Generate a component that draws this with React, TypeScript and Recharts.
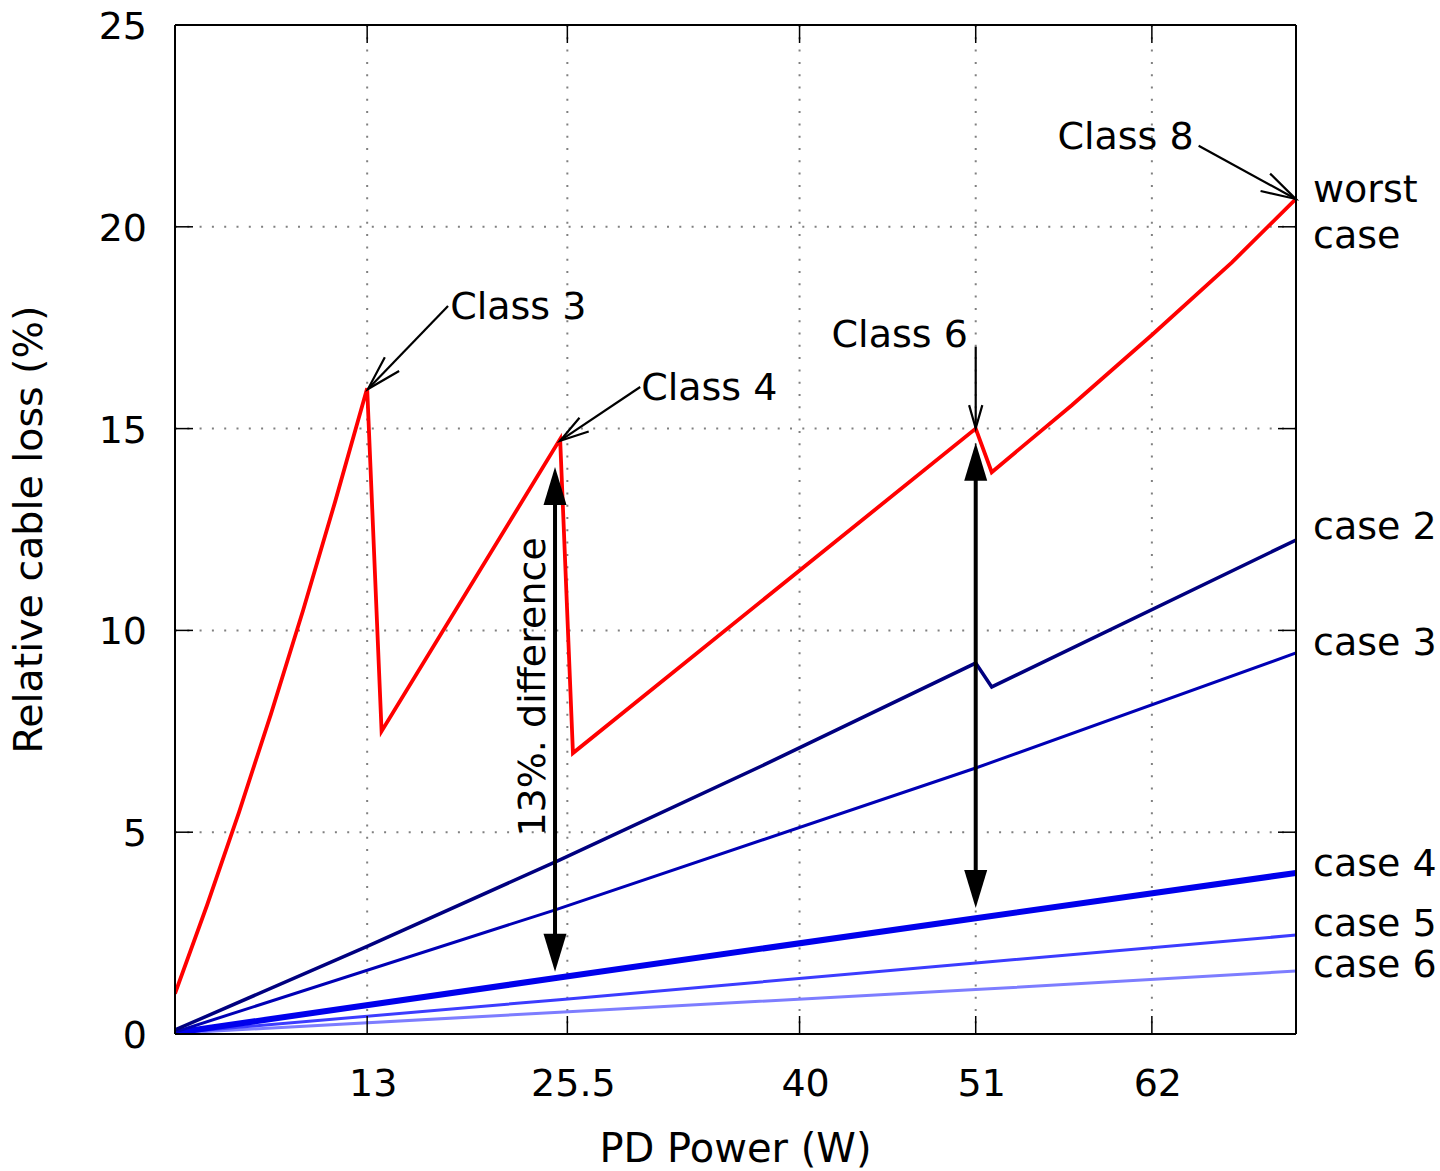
import React from 'react';
import { LineChart, Line, XAxis, YAxis, CartesianGrid, ReferenceLine, ReferenceDot } from 'recharts';

const FONT = '"DejaVu Sans", "Liberation Sans", sans-serif';
const FS = 38;

// axis ticks
const xTicks = [13, 25.5, 40, 51, 62];
const yTicks = [0, 5, 10, 15, 20, 25];

// relative cable loss (%) vs PD power (W)
const worstCase = [
  { x: 1, y: 1.0 },
  { x: 3, y: 3.19 },
  { x: 5, y: 5.5 },
  { x: 7, y: 7.94 },
  { x: 9, y: 10.5 },
  { x: 11, y: 13.19 },
  { x: 13, y: 16.0 },
  { x: 13.9, y: 7.5 },
  { x: 25.05, y: 14.74 },
  { x: 25.85, y: 6.96 },
  { x: 51, y: 15.0 },
  { x: 52, y: 13.92 },
  { x: 57, y: 15.58 },
  { x: 62, y: 17.32 },
  { x: 67, y: 19.12 },
  { x: 71, y: 20.69 },
];
const case2 = [
  { x: 1, y: 0.1 },
  { x: 13, y: 2.17 },
  { x: 25, y: 4.31 },
  { x: 38, y: 6.71 },
  { x: 51, y: 9.19 },
  { x: 52, y: 8.6 },
  { x: 71, y: 12.24 },
];
const case3 = [
  { x: 1, y: 0.05 },
  { x: 24.7, y: 3.07 },
  { x: 51, y: 6.59 },
  { x: 71, y: 9.44 },
];
const case4 = [
  { x: 1, y: 0.03 },
  { x: 25, y: 1.4 },
  { x: 51, y: 2.87 },
  { x: 71, y: 3.99 },
];
const case5 = [
  { x: 1, y: 0.03 },
  { x: 25, y: 0.85 },
  { x: 51, y: 1.76 },
  { x: 71, y: 2.45 },
];
const case6 = [
  { x: 1, y: 0.02 },
  { x: 25, y: 0.54 },
  { x: 51, y: 1.1 },
  { x: 71, y: 1.56 },
];

// annotations (data units)
const classLabels = [
  { text: 'Class 3', x: 18.18, y: 17.72 },
  { text: 'Class 4', x: 30.11, y: 15.71 },
  { text: 'Class 6', x: 42.0, y: 17.02 },
  { text: 'Class 8', x: 56.1, y: 21.93 },
];
const classArrows = [
  { from: { x: 18.05, y: 18.04 }, to: { x: 13.05, y: 15.98 }, head: 36 },
  { from: { x: 30.05, y: 16.03 }, to: { x: 25.05, y: 14.7 }, head: 30 },
  { from: { x: 51, y: 17.03 }, to: { x: 51, y: 15.01 }, head: 24 },
  { from: { x: 64.92, y: 22.01 }, to: { x: 70.98, y: 20.69 }, head: 36 },
];
const caseLabels = [
  { text: 'worst', y: 20.61 },
  { text: 'case', y: 19.47 },
  { text: 'case 2', y: 12.26 },
  { text: 'case 3', y: 9.39 },
  { text: 'case 4', y: 3.91 },
  { text: 'case 5', y: 2.43 },
  { text: 'case 6', y: 1.41 },
];
const diffArrows = [
  { x: 24.73, top: 14.05, bottom: 1.54 },
  { x: 51, top: 14.65, bottom: 3.12 },
];
const diffLabel = { text: '13%. difference', x: 24.11, y: 8.6 };

const txt = { fontFamily: FONT, fontSize: FS, fill: '#000' };

const BottomTick = ({ x, y, payload }: any) => (
  <g>
    <line x1={x} y1={y} x2={x} y2={y - 18} stroke="#000" strokeWidth={1.5} />
    <text x={x + 6} y={y + 62} textAnchor="middle" {...txt}>{payload.value}</text>
  </g>
);
const TopTick = ({ x, y }: any) => (
  <line x1={x} y1={y} x2={x} y2={y + 18} stroke="#000" strokeWidth={1.5} />
);
const LeftTick = ({ x, y, payload }: any) => (
  <g>
    <line x1={x} y1={y} x2={x + 18} y2={y} stroke="#000" strokeWidth={1.5} />
    <text x={x - 28} y={y + 14} textAnchor="end" {...txt}>{payload.value}</text>
  </g>
);
const RightTick = ({ x, y }: any) => (
  <line x1={x} y1={y} x2={x - 18} y2={y} stroke="#000" strokeWidth={1.5} />
);

const XLabel = (props: any) => {
  const vb = props.viewBox || { x: 175, y: 1034, width: 1121, height: 137 };
  return (
    <text x={vb.x + vb.width / 2} y={vb.y + vb.height - 9} textAnchor="middle" {...txt} fontSize={40}>
      PD Power (W)
    </text>
  );
};
const YLabel = (props: any) => {
  const vb = props.viewBox || { x: 0, y: 25, width: 175, height: 1009 };
  const cx = vb.x + 42;
  const cy = vb.y + vb.height / 2;
  return (
    <text x={cx} y={cy} transform={`rotate(-90 ${cx} ${cy})`} textAnchor="middle" {...txt} fontSize={39.5}>
      Relative cable loss (%)
    </text>
  );
};

const openArrow = (head: number) => (p: any) => {
  const { x1, y1, x2, y2 } = p;
  const a = Math.atan2(y1 - y2, x1 - x2);
  const s = (16 * Math.PI) / 180;
  const b1x = x2 + head * Math.cos(a + s);
  const b1y = y2 + head * Math.sin(a + s);
  const b2x = x2 + head * Math.cos(a - s);
  const b2y = y2 + head * Math.sin(a - s);
  return (
    <g>
      <line x1={x1} y1={y1} x2={x2} y2={y2} stroke="#000" strokeWidth={2.2} />
      <polyline points={`${b1x},${b1y} ${x2},${y2} ${b2x},${b2y}`} fill="none" stroke="#000" strokeWidth={2.2} />
    </g>
  );
};

const DoubleArrow = (p: any) => {
  const { x1, y1, y2 } = p;
  const top = Math.min(y1, y2);
  const bot = Math.max(y1, y2);
  const x = x1;
  const len = 38;
  const hw = 11.5;
  return (
    <g>
      <line x1={x} y1={top + len - 2} x2={x} y2={bot - len + 2} stroke="#000" strokeWidth={4} />
      <polygon points={`${x},${top} ${x - hw},${top + len} ${x + hw},${top + len}`} fill="#000" />
      <polygon points={`${x},${bot} ${x - hw},${bot - len} ${x + hw},${bot - len}`} fill="#000" />
    </g>
  );
};

const seriesStyle = [
  { key: 'worst', data: worstCase, color: '#ff0000', width: 3.8 },
  { key: 'case2', data: case2, color: '#00007f', width: 3.5 },
  { key: 'case3', data: case3, color: '#0000b5', width: 3 },
  { key: 'case4', data: case4, color: '#0000ec', width: 6 },
  { key: 'case5', data: case5, color: '#3c3cff', width: 3 },
  { key: 'case6', data: case6, color: '#7d7dff', width: 3 },
];

export default function App() {
  return (
    <div style={{ position: 'absolute', left: 0, top: 0, width: 1440, height: 1171, background: '#fff' }}>
      <LineChart width={1440} height={1171} margin={{ top: 0, right: 0, bottom: 0, left: 0 }}>
        <CartesianGrid stroke="#808080" strokeWidth={2} strokeDasharray="2 10.3" />
        <XAxis
          dataKey="x"
          type="number"
          domain={[1, 71]}
          allowDataOverflow
          ticks={xTicks}
          interval={0}
          height={137}
          tickSize={0}
          tickMargin={0}
          tickLine={false}
          tick={<BottomTick />}
          axisLine={{ stroke: '#000', strokeWidth: 2 }}
          label={XLabel}
        />
        <XAxis
          xAxisId="top"
          orientation="top"
          dataKey="x"
          type="number"
          domain={[1, 71]}
          allowDataOverflow
          ticks={xTicks}
          interval={0}
          height={25}
          tickSize={0}
          tickMargin={0}
          tickLine={false}
          tick={<TopTick />}
          axisLine={{ stroke: '#000', strokeWidth: 2 }}
        />
        <YAxis
          type="number"
          domain={[0, 25]}
          allowDataOverflow
          ticks={yTicks}
          interval={0}
          width={175}
          tickSize={0}
          tickMargin={0}
          tickLine={false}
          tick={<LeftTick />}
          axisLine={{ stroke: '#000', strokeWidth: 2 }}
          label={YLabel}
        />
        <YAxis
          yAxisId="right"
          orientation="right"
          type="number"
          domain={[0, 25]}
          allowDataOverflow
          ticks={yTicks}
          interval={0}
          width={144}
          tickSize={0}
          tickMargin={0}
          tickLine={false}
          tick={<RightTick />}
          axisLine={{ stroke: '#000', strokeWidth: 2 }}
        />
        {seriesStyle
          .slice()
          .reverse()
          .map((s) => (
            <Line
              key={s.key}
              data={s.data}
              dataKey="y"
              type="linear"
              stroke={s.color}
              strokeWidth={s.width}
              strokeLinejoin="miter"
              dot={false}
              activeDot={false}
              isAnimationActive={false}
            />
          ))}
        {classArrows.map((a, i) => (
          <ReferenceLine
            key={`ca-${i}`}
            segment={[a.from, a.to]}
            ifOverflow="visible"
            shape={openArrow(a.head)}
          />
        ))}
        {diffArrows.map((a, i) => (
          <ReferenceLine
            key={`da-${i}`}
            segment={[{ x: a.x, y: a.top }, { x: a.x, y: a.bottom }]}
            ifOverflow="visible"
            shape={DoubleArrow}
          />
        ))}
        {classLabels.map((l) => (
          <ReferenceDot
            key={l.text}
            x={l.x}
            y={l.y}
            ifOverflow="visible"
            shape={(p: any) => (
              <text x={p.cx} y={p.cy} textAnchor="start" {...txt}>{l.text}</text>
            )}
          />
        ))}
        {caseLabels.map((l) => (
          <ReferenceDot
            key={`cl-${l.text}-${l.y}`}
            x={71}
            y={l.y}
            ifOverflow="visible"
            shape={(p: any) => (
              <text x={p.cx + 17} y={p.cy} textAnchor="start" {...txt}>{l.text}</text>
            )}
          />
        ))}
        <ReferenceDot
          x={diffLabel.x}
          y={diffLabel.y}
          ifOverflow="visible"
          shape={(p: any) => (
            <text
              x={p.cx}
              y={p.cy}
              transform={`rotate(-90 ${p.cx} ${p.cy})`}
              textAnchor="middle"
              {...txt}
            >
              {diffLabel.text}
            </text>
          )}
        />
      </LineChart>
    </div>
  );
}
